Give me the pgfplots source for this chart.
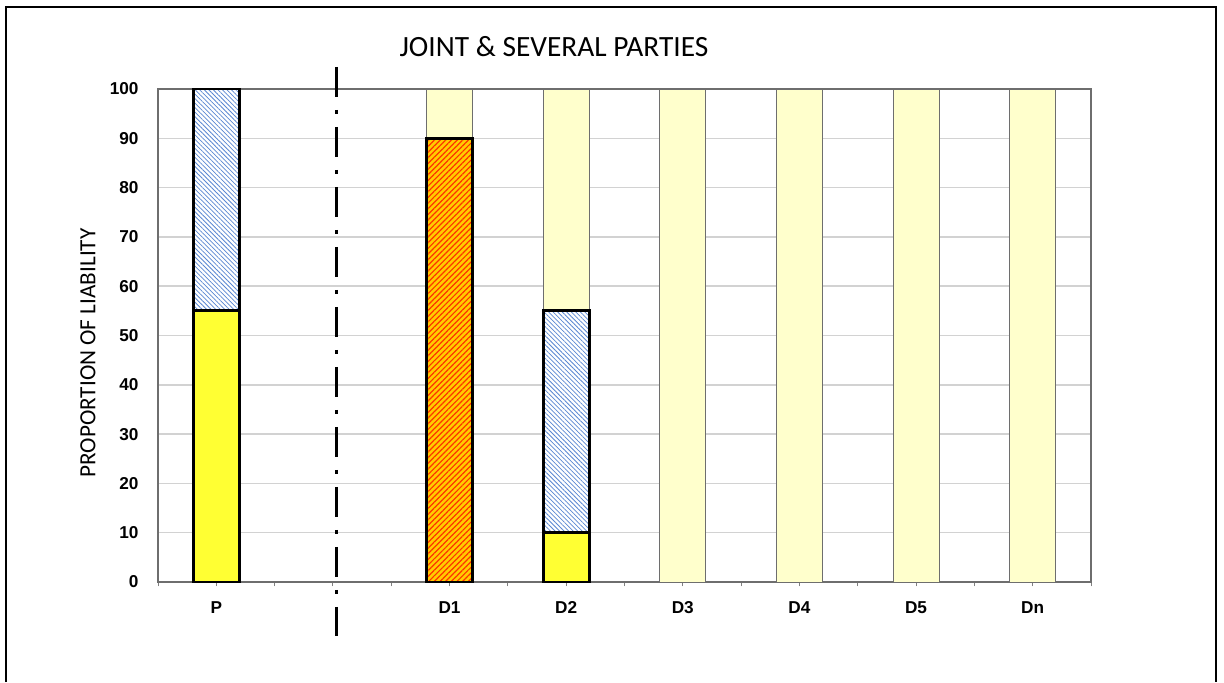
\documentclass[border=0pt]{standalone}
\usepackage{fontspec}
\setmainfont{Liberation Sans}
\newfontfamily\calibri{Carlito}
\usepackage{pgfplots}
\pgfplotsset{compat=1.18}
\usetikzlibrary{patterns.meta}

\definecolor{paleyellow}{RGB}{255,255,204}
\definecolor{brightyellow}{RGB}{255,255,51}
\definecolor{hatchblue}{RGB}{90,135,210}
\definecolor{hatchorange}{RGB}{255,205,0}
\definecolor{hatchred}{RGB}{255,50,0}
\definecolor{framegray}{RGB}{110,110,110}
\definecolor{gridgray}{RGB}{210,210,210}

\begin{document}
\begin{tikzpicture}
% page: 1224 x 682 px at 0.5pt per px
\path[use as bounding box] (0pt,0pt) rectangle (612pt,-341pt);

\begin{axis}[
  at={(79pt,-291pt)}, anchor=south west,
  scale only axis, width=466.5pt, height=246.5pt,
  ybar, bar width=0.394,
  xmin=-0.5, xmax=7.5, ymin=0, ymax=100,
  xtick={0,...,7},
  xticklabels={P,,D1,D2,D3,D4,D5,Dn},
  minor xtick={-0.5,0.5,...,7.5},
  ytick={0,10,...,100},
  ymajorgrids,
  major grid style={draw=gridgray, line width=0.75pt},
  axis line style={draw=framegray, line width=0.6pt},
  x tick style={draw=gray, line width=0.5pt},
  tick align=outside, major tick length=2.2pt, minor tick length=2.2pt,
  y tick style={draw=none},
  xtick pos=bottom, ytick pos=left,
  /pgf/number format/assume math mode=true,
  ticklabel style={font=\fontsize{8.6}{10}\selectfont\bfseries},
  yticklabel style={xshift=-4pt},
  xticklabel style={yshift=-4pt},
  clip=false,
]
% pale background columns
\addplot[bar shift=0pt, fill=paleyellow, draw=framegray, line width=0.5pt]
  coordinates {(2,100) (3,100) (4,100) (5,100) (6,100) (7,100)};
% blue hatched shares
\addplot[bar shift=0pt, draw=black, line width=1.4pt, preaction={fill=white},
  pattern={Lines[angle=-45,distance=1.6pt,line width=0.38pt]}, pattern color=hatchblue]
  coordinates {(0,100) (3,55)};
% orange hatched share
\addplot[bar shift=0pt, draw=black, line width=1.4pt, preaction={fill=hatchorange},
  pattern={Lines[angle=45,distance=2pt,line width=0.6pt]}, pattern color=hatchred]
  coordinates {(2,90)};
% yellow shares
\addplot[bar shift=0pt, draw=black, line width=1.4pt, fill=brightyellow]
  coordinates {(0,55) (3,10)};
% separator
\addplot[sharp plot, black, line width=1.5pt, line cap=butt,
  dash pattern=on 15pt off 6.5pt on 2pt off 6.5pt]
  coordinates {(1.034,104.5) (1.034,-11)};
\end{axis}

\node[font=\calibri\fontsize{14.7}{17}\selectfont] at (277pt,-23.5pt) {JOINT \& SEVERAL PARTIES};
\node[font=\calibri\fontsize{11.6}{14}\selectfont, rotate=90] at (44pt,-176.5pt) {PROPORTION OF LIABILITY};

\draw[line width=1.25pt] (3pt,-341pt) -- (3pt,-3.5pt) -- (608pt,-3.5pt) -- (608pt,-341pt);
\end{tikzpicture}
\end{document}
